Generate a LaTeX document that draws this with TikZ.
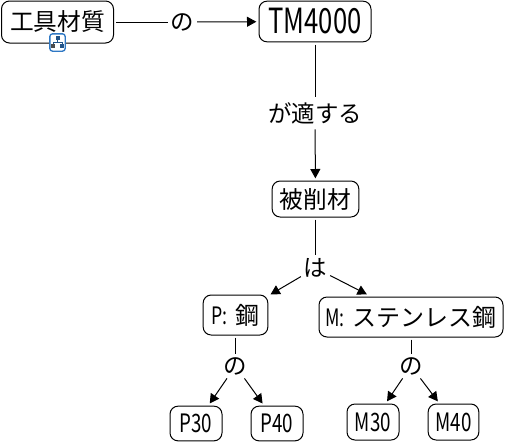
\documentclass[tikz,border=0pt]{standalone}
\usepackage{fontspec}
\usepackage{xcolor}
\usetikzlibrary{arrows.meta}
\setmainfont{Noto Sans CJK JP}
\newfontfamily\narrowf[FakeStretch=0.74]{Noto Sans CJK JP}
\definecolor{iconc}{HTML}{2F78C4}
\tikzset{
  box/.style={draw,rounded corners=6pt,inner sep=0pt,outer sep=2pt,line width=0.75pt},
  lab/.style={inner xsep=2pt,inner ysep=2.5pt,font=\fontsize{17.6}{18}\selectfont},
  ar/.style={-{Triangle[length=7pt,width=7.5pt]},line width=0.75pt},
  ln/.style={line width=0.75pt}
}
\newcommand{\bsize}[2]{\fontsize{#1}{#1}\selectfont #2}
\begin{document}
\begin{tikzpicture}[x=0.75pt,y=-0.75pt]
\useasboundingbox (0,0) rectangle (505,443);
% main row
\node[box,minimum width=84pt,minimum height=31.5pt] (mat) at (57.5,22) {\bsize{17.8}{工具材質}};
\node[box,minimum width=84pt,minimum height=30.5pt] (tm) at (315,21.5) {\narrowf\bsize{26}{TM4000}};
\node[box,minimum width=65pt,minimum height=27pt] (work) at (315.5,199) {\bsize{17.8}{被削材}};
% materials
\node[box,minimum width=48.5pt,minimum height=30pt] (steel) at (235.5,315) {\bsize{18}{{\narrowf P:\,\,}鋼}};
\node[box,minimum width=138pt,minimum height=30pt] (stain) at (411,317) {\bsize{18}{{\narrowf M:\,\,}ステンレス鋼}};
\node[box,minimum width=39pt,minimum height=26pt] (p30) at (196,423.5) {\narrowf\bsize{19}{P30}};
\node[box,minimum width=39pt,minimum height=26pt] (p40) at (277,423.5) {\narrowf\bsize{19}{P40}};
\node[box,minimum width=39pt,minimum height=27pt] (m30) at (373,422) {\narrowf\bsize{19}{M30}};
\node[box,minimum width=38pt,minimum height=27pt] (m40) at (453.5,422) {\narrowf\bsize{19}{M40}};
% labels on the links
\node[lab] (no1) at (182.5,22) {の};
\node[lab,inner ysep=4pt] (fit) at (315,113) {が適する};
\node[lab] (ha) at (315.5,268) {は};
\node[lab] (no2) at (235.5,366) {の};
\node[lab] (no3) at (411,366) {の};
% links
\draw[ln] (mat)--(no1);
\draw[ar] (no1)--(tm);
\draw[ln] (tm)--(fit);
\draw[ar] (fit)--(work);
\draw[ln] (work)--(ha);
\draw[ar] (ha)--(steel);
\draw[ar] (ha)--(stain);
\draw[ln] (steel)--(no2);
\draw[ar] (no2)--(p30);
\draw[ar] (no2)--(p40);
\draw[ln] (stain)--(no3);
\draw[ar] (no3)--(m30);
\draw[ar] (no3)--(m40);
% icon
\node[draw=iconc,fill=white,rounded corners=2pt,line width=1pt,minimum width=11.5pt,minimum height=13pt,inner sep=0pt] (icon) at (57.5,42.5) {};
\fill[iconc!70!black] (55.5,35.5) rectangle (59.5,39.5);
\draw[iconc!70!black,line width=0.5pt] (57.5,39.5)--(57.5,42) (53,44)--(53,42)--(62,42)--(62,44);
\fill[black!70] (51,44) rectangle (55,48);
\fill[iconc!70!black] (60,44) rectangle (64,48);
\end{tikzpicture}
\end{document}
